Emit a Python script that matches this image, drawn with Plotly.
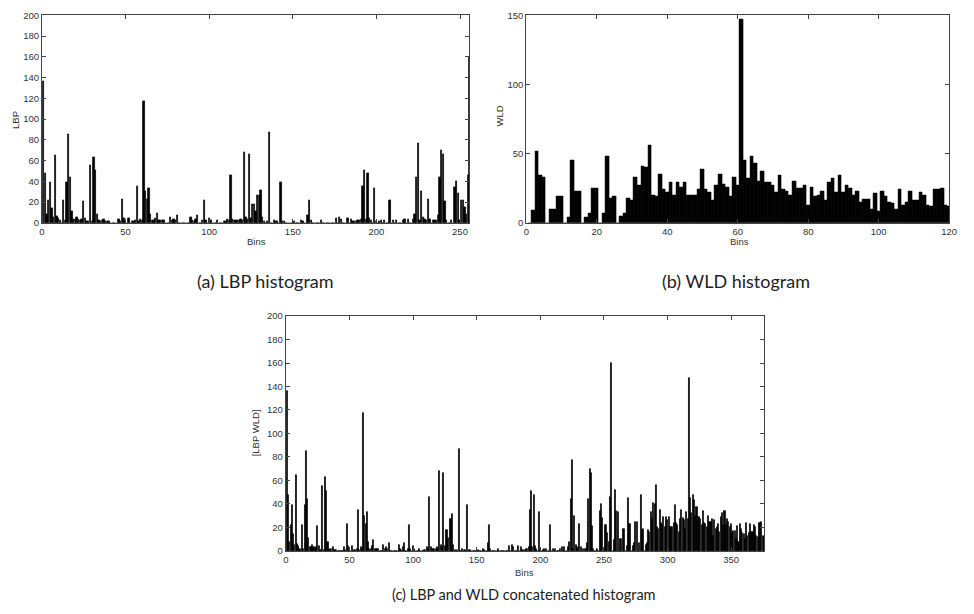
import plotly.graph_objects as go

# LBP histogram, bins at positions 1..256
lbp = [136, 48, 8, 22, 39, 14, 5, 65, 6, 4, 2, 0, 22, 2, 39, 85, 44, 11, 3, 3,
       5, 3, 2, 3, 21, 4, 1, 1, 55, 1, 63, 51, 8, 2, 1, 2, 3, 1, 1, 1,
       0, 0, 0, 0, 0, 3, 1, 23, 4, 1, 0, 4, 0, 1, 1, 2, 35, 1, 3, 2,
       117, 30, 23, 33, 8, 2, 2, 4, 9, 2, 2, 2, 2, 0, 0, 0, 5, 2, 3, 2,
       7, 0, 0, 0, 0, 0, 0, 0, 5, 2, 1, 3, 7, 0, 0, 2, 22, 2, 0, 4,
       2, 0, 0, 0, 2, 0, 0, 0, 1, 1, 3, 2, 46, 3, 2, 2, 2, 2, 3, 2,
       68, 5, 3, 66, 4, 18, 18, 11, 27, 27, 31, 5, 1, 0, 1, 87, 0, 0, 2, 1,
       1, 0, 39, 1, 1, 0, 0, 0, 0, 0, 1, 0, 0, 0, 2, 1, 0, 0, 7, 22,
       2, 0, 0, 0, 0, 0, 2, 0, 0, 0, 0, 0, 0, 0, 0, 4, 0, 5, 3, 0,
       0, 0, 4, 0, 3, 1, 1, 1, 2, 2, 3, 35, 51, 3, 48, 4, 2, 0, 33, 1,
       0, 1, 2, 0, 2, 0, 0, 22, 0, 2, 0, 2, 0, 0, 0, 2, 3, 0, 3, 0,
       0, 3, 8, 44, 77, 2, 30, 5, 3, 2, 23, 3, 0, 2, 2, 2, 7, 44, 70, 66,
       21, 2, 0, 0, 2, 0, 34, 40, 28, 2, 22, 22, 15, 8, 46, 160]

# WLD histogram, bins at positions 1..120
wld = [0, 9, 52, 34, 33, 0, 10, 10, 19, 19, 0, 4, 45, 23, 23, 0, 4, 7, 25, 25,
       0, 7, 48, 18, 19, 0, 5, 7, 18, 16, 33, 27, 41, 40, 56, 20, 19, 35, 24, 22,
       29, 20, 29, 26, 29, 20, 20, 20, 24, 39, 24, 22, 16, 27, 35, 28, 26, 19, 33, 27,
       147, 45, 32, 48, 43, 30, 37, 29, 29, 27, 22, 34, 24, 23, 20, 30, 25, 25, 27, 13,
       26, 19, 20, 23, 16, 29, 32, 22, 34, 22, 27, 25, 20, 23, 15, 17, 17, 10, 21, 8,
       23, 19, 15, 14, 10, 24, 13, 15, 23, 16, 16, 22, 20, 13, 12, 24, 24, 25, 13, 12]

assert len(lbp) == 256 and len(wld) == 120

concat = lbp + wld
pos_lbp = list(range(1, len(lbp) + 1))
pos_wld = list(range(1, len(wld) + 1))
pos_cat = list(range(1, len(concat) + 1))

lbp_xticks = [0, 50, 100, 150, 200, 250]
lbp_yticks = list(range(0, 201, 20))
wld_xticks = [0, 20, 40, 60, 80, 100, 120]
wld_yticks = [0, 50, 100, 150]
cat_xticks = [0, 50, 100, 150, 200, 250, 300, 350]
cat_yticks = list(range(0, 201, 20))

# page body keeps its default 8px margin on every side; figure fits inside it
OFF = 8
W, H = 974 - 2 * OFF, 614 - 2 * OFF

def px(x):
    return (x - OFF) / W

def py(y):
    return 1 - (y - OFF) / H

fig = go.Figure()
bar_style = dict(color="black", line=dict(color="black", width=0.7))
fig.add_trace(go.Bar(x=pos_lbp, y=lbp, width=0.8, marker=bar_style, xaxis="x", yaxis="y"))
fig.add_trace(go.Bar(x=pos_wld, y=wld, width=1.0, marker=dict(color="black", line=dict(color="black", width=0.5)), xaxis="x2", yaxis="y2"))
fig.add_trace(go.Bar(x=pos_cat, y=concat, width=0.8, marker=bar_style, xaxis="x3", yaxis="y3"))

axcol = "#444"
tickfont = dict(family="Liberation Sans, Arial", size=9.5, color="#333")

def ax(domain, rng, ticks, anchor):
    return dict(domain=domain, range=rng, tickvals=ticks, ticktext=[str(t) for t in ticks],
                showline=True, linecolor=axcol, linewidth=1, mirror="ticks",
                ticks="inside", ticklen=4, tickcolor=axcol, showgrid=False, zeroline=False,
                tickfont=tickfont, anchor=anchor, fixedrange=True)

fig.update_layout(
    width=W, height=H, margin=dict(l=0, r=0, t=0, b=0),
    paper_bgcolor="white", plot_bgcolor="white", showlegend=False, bargap=0,
    # the last LBP bin sits on the right frame edge in panel (a)
    xaxis=ax([px(39.3), px(471.7)], [0, 255.6], lbp_xticks, "y"),
    yaxis=ax([py(220.7), py(9.3)], [0, 200], lbp_yticks, "x"),
    xaxis2=ax([px(529.3), px(957)], [0, 120], wld_xticks, "y2"),
    yaxis2=ax([py(220.7), py(9.3)], [0, 150], wld_yticks, "x2"),
    xaxis3=ax([px(286), px(770)], [0, 376], cat_xticks, "y3"),
    yaxis3=ax([py(555), py(315.7)], [0, 200], cat_yticks, "x3"),
)

lab = dict(family="Liberation Sans, Arial", size=9.5, color="#333")
cap_ab = dict(family="Lato, Noto Sans", size=18, color="#222")
cap_c = dict(family="Lato, Noto Sans", size=14.5, color="#222")

def note(text, x, y, font, angle=0):
    fig.add_annotation(text=text, x=px(x), y=py(y), xref="paper", yref="paper",
                       showarrow=False, font=font, textangle=angle,
                       xanchor="center", yanchor="middle")

note("Bins", 256, 240, lab)
note("LBP", 12, 116, lab, -90)
note("Bins", 745, 240, lab)
note("WLD", 502, 112, lab, -90)
note("Bins", 527, 577, lab)
note("[LBP WLD]", 255, 435, lab, -90)
note("(a) LBP histogram", 265, 280, cap_ab)
note("(b) WLD histogram", 741, 280, cap_ab)
note("(c) LBP and WLD concatenated histogram", 527, 599, cap_c)

fig.write_html("out.html", config={"displayModeBar": False})
